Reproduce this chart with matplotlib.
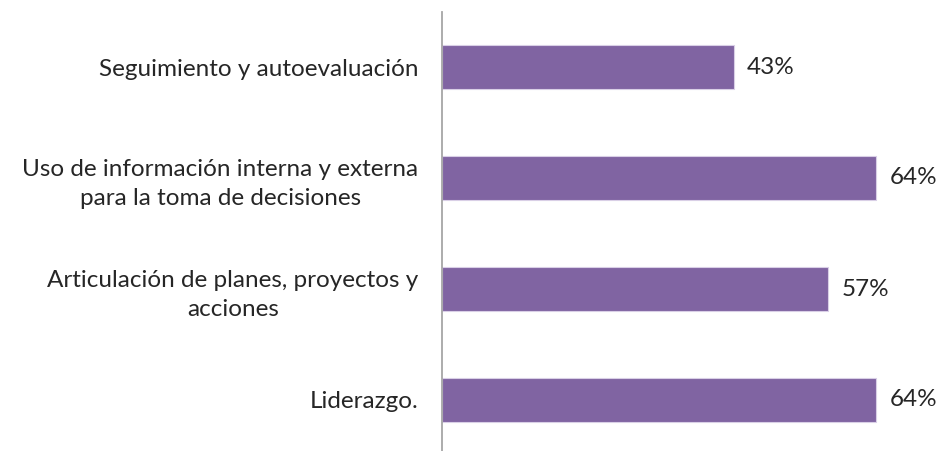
import matplotlib
matplotlib.use("Agg")
import matplotlib.pyplot as plt

# categories top to bottom
categorias = ["Seguimiento y autoevaluación",
              "Uso de información interna y externa\npara la toma de decisiones",
              "Articulación de planes, proyectos y\nacciones",
              "Liderazgo."]
valores = [43, 64, 57, 64]
etiquetas = ["43%", "64%", "57%", "64%"]

plt.rcParams['font.family'] = ['Lato', 'DejaVu Sans']

fig = plt.figure(figsize=(9.42, 4.51), dpi=100)
ax = fig.add_axes([442/942, -4.5/451, 500/942, 444/451])

pos = list(range(len(categorias)))
ax.barh(pos, valores, height=0.4, color='#8064A2', edgecolor='#d9cfe6', linewidth=0.8)
ax.set_ylim(len(categorias) - 0.5, -0.5)
ax.set_xlim(0, 500/6.78)

for p, v, t in zip(pos, valores, etiquetas):
    ax.text(v + 2.0, p, t, va='center', ha='left', fontsize=17.5, color='#262626')

ax.set_yticks(pos)
ax.set_yticklabels(categorias, fontsize=17.5, color='#262626', multialignment='center',
                   linespacing=1.45)
ax.tick_params(axis='y', length=0, pad=17)
ax.set_xticks([])

for s in ['top', 'right', 'bottom']:
    ax.spines[s].set_visible(False)
ax.spines['left'].set_color('#a6a6a6')
ax.spines['left'].set_linewidth(1.3)

fig.savefig("out.png", dpi=100)
